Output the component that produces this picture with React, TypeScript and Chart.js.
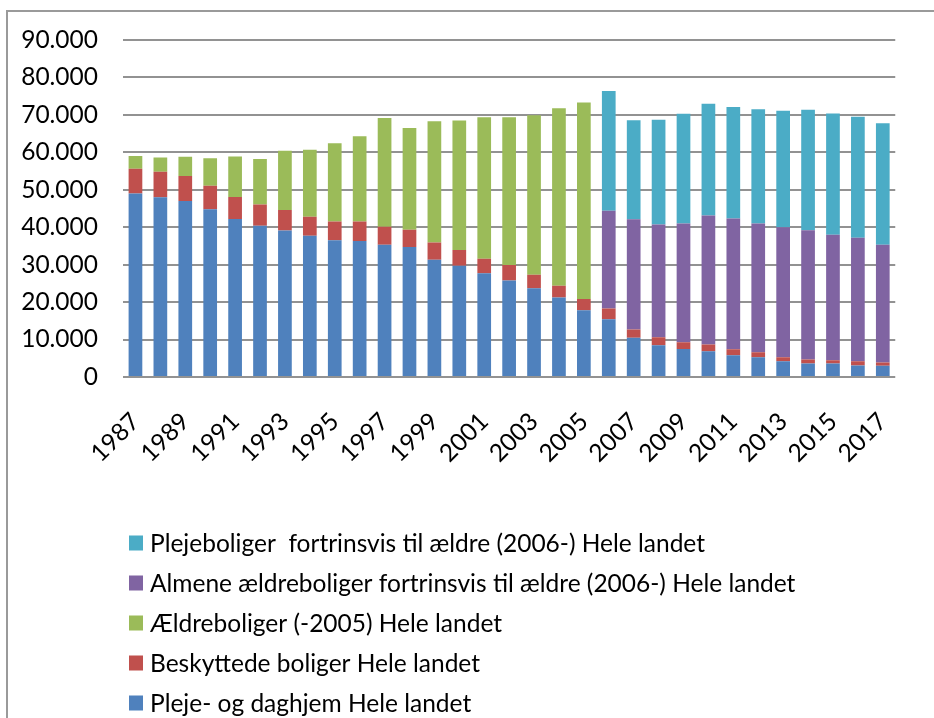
import React, { useEffect, useRef } from 'react';
import { Chart, registerables } from 'chart.js';

Chart.register(...registerables);

const years = [
  '1987', '1988', '1989', '1990', '1991', '1992', '1993', '1994', '1995', '1996',
  '1997', '1998', '1999', '2000', '2001', '2002', '2003', '2004', '2005', '2006',
  '2007', '2008', '2009', '2010', '2011', '2012', '2013', '2014', '2015', '2016', '2017',
];

const plejeOgDaghjem = [
  49000, 48000, 47000, 44800, 42200, 40400, 39100, 37700, 36500, 36300,
  35300, 34700, 31300, 29700, 27700, 25800, 23700, 21200, 17800, 15400,
  10500, 8500, 7500, 6900, 5800, 5300, 4200, 3600, 3600, 3100, 3000,
];

const beskyttedeBoliger = [
  6600, 6800, 6700, 6300, 5900, 5700, 5500, 5100, 5000, 5200,
  4800, 4600, 4600, 4200, 3900, 4100, 3600, 3200, 3000, 2900,
  2200, 2100, 1800, 1800, 1600, 1300, 1100, 1100, 900, 1100, 900,
];

const aeldreboliger = [
  3400, 3800, 5100, 7300, 10800, 12100, 15800, 17900, 20900, 22800,
  29100, 27200, 32400, 34600, 37800, 39500, 42600, 47400, 52500, null,
  null, null, null, null, null, null, null, null, null, null, null,
];

const almeneAeldreboliger = [
  null, null, null, null, null, null, null, null, null, null,
  null, null, null, null, null, null, null, null, null, 26100,
  29400, 30100, 31700, 34400, 34900, 34400, 34700, 34500, 33500, 33000, 31400,
];

const plejeboliger = [
  null, null, null, null, null, null, null, null, null, null,
  null, null, null, null, null, null, null, null, null, 32000,
  26500, 28000, 29300, 29900, 29800, 30500, 31100, 32200, 32400, 32300, 32500,
];

const seriesLabels = [
  'Pleje- og daghjem Hele landet',
  'Beskyttede boliger Hele landet',
  'Ældreboliger (-2005) Hele landet',
  'Almene ældreboliger fortrinsvis til ældre (2006-) Hele landet',
  'Plejeboliger  fortrinsvis til ældre (2006-) Hele landet',
];

const seriesColors = ['#4F81BD', '#C0504D', '#9BBB59', '#8064A2', '#4BACC6'];

const yMax = 90000;
const yStep = 10000;

const FONT = 'Lato';
const FONT_SIZE = 24.5;

function formatThousands(v: number): string {
  return String(Math.round(v)).replace(/\B(?=(\d{3})+(?!\d))/g, '.');
}

const legendPlugin = {
  id: 'stackedLegend',
  afterDraw(chart: any) {
    const ctx = chart.ctx as CanvasRenderingContext2D;
    const ds = chart.data.datasets.slice().reverse();
    ctx.save();
    ctx.font = `${FONT_SIZE}px ${FONT}`;
    ctx.textBaseline = 'middle';
    ctx.textAlign = 'left';
    ds.forEach((d: any, i: number) => {
      const cy = 543 + i * 40;
      ctx.fillStyle = d.backgroundColor;
      ctx.fillRect(129, cy - 7.5, 14, 15);
      ctx.fillStyle = '#000000';
      ctx.fillText(d.label, 150, cy + 1);
    });
    ctx.restore();
  },
};

export default function App() {
  const canvasRef = useRef<HTMLCanvasElement | null>(null);

  useEffect(() => {
    if (!canvasRef.current) return;
    const seriesData = [plejeOgDaghjem, beskyttedeBoliger, aeldreboliger, almeneAeldreboliger, plejeboliger];
    const chart = new Chart(canvasRef.current, {
      type: 'bar',
      data: {
        labels: years,
        datasets: seriesData.map((d, i) => ({
          label: seriesLabels[i],
          data: d as any,
          backgroundColor: seriesColors[i],
          borderWidth: 0,
          categoryPercentage: 1,
          barPercentage: 0.55,
        })),
      },
      options: {
        animation: false,
        responsive: false,
        maintainAspectRatio: false,
        layout: { padding: { left: 8, top: 40, right: 26, bottom: 211 } },
        plugins: {
          legend: { display: false },
          tooltip: { enabled: false },
        },
        scales: {
          x: {
            stacked: true,
            grid: { display: false, drawTicks: false },
            border: { display: false },
            ticks: {
              autoSkip: false,
              maxRotation: 45,
              minRotation: 45,
              padding: 30,
              color: '#000000',
              font: { family: FONT, size: FONT_SIZE },
              callback: (_v: any, i: number) => (i % 2 === 0 ? years[i] : ''),
            },
            afterFit: (s: any) => { s.height = 130; },
          },
          y: {
            stacked: true,
            min: 0,
            max: yMax,
            grid: { color: '#929292', lineWidth: 2, drawTicks: false },
            border: { display: false },
            ticks: {
              stepSize: yStep,
              padding: 25,
              color: '#000000',
              font: { family: FONT, size: FONT_SIZE },
              callback: (v: any) => formatThousands(Number(v)),
            },
            afterFit: (s: any) => { s.width = 115; },
          },
        },
      },
      plugins: [legendPlugin],
    });
    return () => chart.destroy();
  }, []);

  return (
    <div style={{ position: 'absolute', left: 0, top: 0, width: 934, height: 718, background: '#ffffff', overflow: 'hidden' }}>
      <div style={{ position: 'absolute', left: 6, top: 10, width: 940, height: 720, borderLeft: '2px solid #9a9a9a', borderTop: '2px solid #9a9a9a' }} />
      <canvas ref={canvasRef} width={934} height={718} style={{ position: 'absolute', left: 0, top: 0, width: 934, height: 718 }} />
    </div>
  );
}
